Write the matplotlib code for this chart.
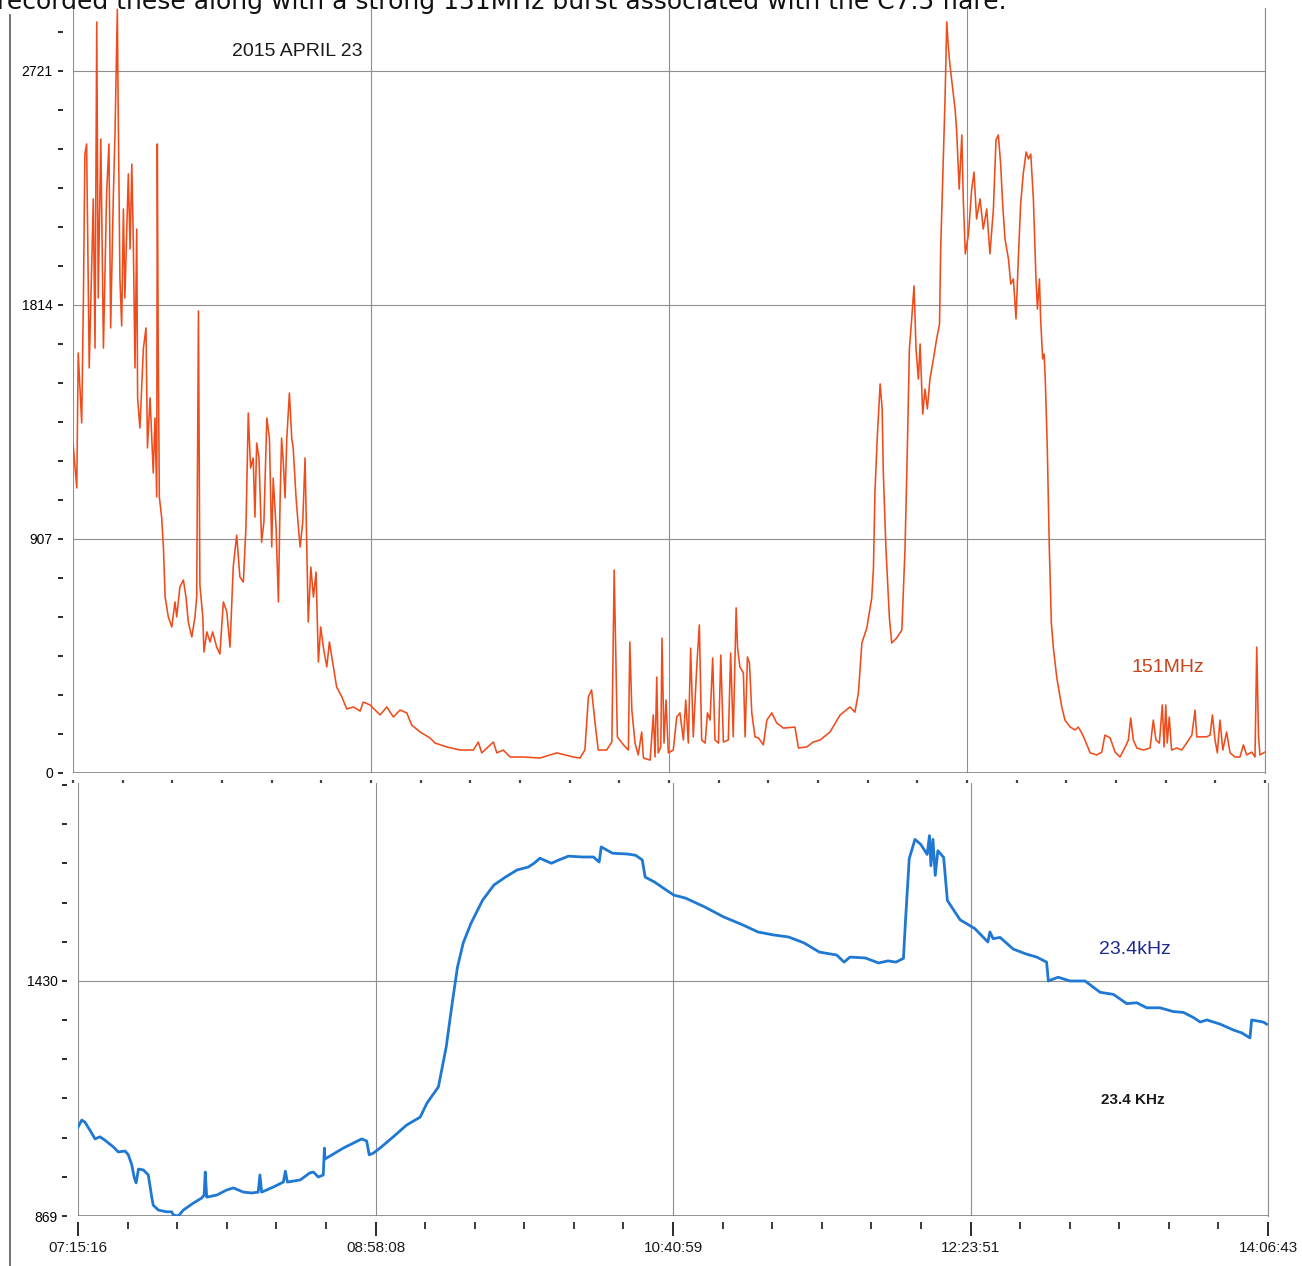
"""Radio receiver record, 2015 April 23: 151 MHz (top) and 23.4 kHz VLF (bottom).

Values were read off a scanned strip chart.  Time is minutes after 07:15:16 UT,
amplitudes are the recorder's own units shown on the y axes.
"""

import matplotlib

matplotlib.use("Agg")
import matplotlib.pyplot as plt
from matplotlib import font_manager
from matplotlib.lines import Line2D
from matplotlib.ticker import FixedLocator

SPAN_MIN = 411.45  # 07:15:16 -> 14:06:43
MAJOR_X = [0.0, 102.87, 205.73, 308.6, 411.45]
X_LABELS = ["07:15:16", "08:58:08", "10:40:59", "12:23:51", "14:06:43"]
MHZ_TICKS = [0, 907, 1814, 2721]
KHZ_TICKS = [869, 1430]

# 151 MHz trace: (minutes, level)
MHZ_TRACE = [
    (0.0, 1279), (1.3, 1105), (1.8, 1628), (3.0, 1357), (3.6, 1841),
    (4.1, 2399), (4.7, 2438), (5.6, 1570), (7.0, 2225), (7.6, 1647),
    (8.2, 2911), (8.7, 1841), (9.6, 2457), (10.5, 1647), (11.6, 2244),
    (12.4, 2438), (13.0, 1725), (13.9, 2225), (14.5, 2477), (15.3, 2960),
    (15.6, 2574), (16.2, 1915), (16.8, 1733), (17.4, 2186), (17.9, 1841),
    (19.1, 2322), (19.7, 2031), (20.3, 2360), (20.8, 2070), (21.4, 1570),
    (22.0, 2108), (22.3, 1454), (23.1, 1337), (24.3, 1647), (25.2, 1725),
    (25.7, 1260), (26.6, 1454), (27.7, 1163), (28.3, 1376), (28.9, 1070),
    (29.1, 2438), (29.4, 1686), (29.8, 1070), (30.6, 992), (31.2, 876),
    (31.8, 682), (32.9, 605), (34.1, 566), (35.2, 663), (35.8, 605),
    (36.9, 721), (38.1, 748), (39.0, 682), (39.8, 585), (41.0, 527),
    (42.1, 605), (42.7, 682), (43.3, 1791), (43.8, 729), (44.8, 605),
    (45.2, 469), (46.2, 547), (47.3, 508), (48.2, 547), (49.6, 488),
    (50.7, 461), (51.9, 663), (53.1, 624), (54.2, 488), (55.3, 798),
    (56.5, 922), (57.6, 760), (58.8, 740), (59.7, 953), (60.5, 1395),
    (61.3, 1182), (62.2, 1221), (62.8, 992), (63.4, 1279), (64.2, 1221),
    (65.1, 895), (65.9, 973), (66.9, 1376), (67.8, 1298), (68.6, 876),
    (69.1, 1143), (70.1, 953), (70.9, 663), (71.5, 1066), (72.0, 1298),
    (72.6, 1202), (73.2, 1066), (73.8, 1298), (74.7, 1473), (75.5, 1298),
    (76.0, 1260), (77.0, 1066), (77.8, 953), (78.4, 876), (79.3, 973),
    (80.1, 1221), (80.7, 876), (81.2, 585), (82.1, 798), (83.0, 682),
    (83.9, 779), (84.7, 430), (85.5, 566), (86.4, 488), (87.6, 411),
    (88.5, 508), (89.9, 411), (91.0, 333), (92.8, 295), (94.5, 248),
    (96.8, 256), (99.1, 240), (100.2, 275), (102.5, 264), (106.0, 225),
    (108.3, 256), (110.6, 217), (112.9, 244), (115.2, 233), (116.9, 186),
    (119.8, 159), (123.2, 136), (125.0, 116), (129.0, 101), (133.6, 89),
    (138.2, 89), (139.9, 120), (141.1, 78), (145.1, 120), (146.3, 78),
    (148.5, 89), (150.9, 62), (155.4, 62), (161.2, 58), (167.0, 78),
    (172.7, 62), (175.0, 58), (176.7, 89), (177.9, 295), (179.0, 322),
    (180.2, 194), (181.3, 89), (184.2, 89), (186.0, 120), (186.8, 787),
    (187.2, 554), (187.9, 140), (190.0, 109), (191.7, 89), (192.2, 508),
    (192.9, 244), (194.0, 116), (195.1, 70), (196.3, 159), (196.9, 58),
    (199.2, 50), (200.3, 225), (200.9, 62), (201.5, 372), (202.0, 78),
    (202.9, 101), (203.3, 523), (204.0, 116), (204.7, 283), (205.5, 78),
    (207.2, 89), (208.4, 217), (209.5, 233), (210.7, 128), (211.5, 283),
    (212.4, 116), (213.2, 484), (214.1, 140), (215.3, 411), (216.2, 574),
    (217.0, 128), (218.2, 116), (219.0, 233), (219.9, 205), (220.8, 446),
    (221.6, 128), (222.8, 116), (223.6, 457), (224.5, 120), (226.2, 128),
    (227.0, 465), (227.9, 140), (228.9, 640), (229.4, 484), (230.2, 411),
    (231.4, 388), (232.0, 140), (232.8, 450), (233.5, 426), (234.3, 233),
    (235.4, 140), (236.6, 136), (238.3, 109), (239.5, 205), (241.2, 233),
    (242.9, 194), (245.2, 174), (249.2, 178), (250.4, 97), (253.3, 101),
    (255.5, 120), (257.9, 128), (261.3, 159), (264.8, 225), (268.2, 256),
    (269.9, 236), (271.1, 310), (272.3, 504), (274.0, 562), (275.7, 678),
    (276.3, 795), (276.8, 1085), (277.6, 1298), (278.6, 1508), (279.3, 1411),
    (279.7, 1163), (280.6, 872), (281.8, 601), (282.6, 504), (284.3, 523),
    (286.1, 554), (287.2, 872), (288.0, 1260), (288.7, 1643), (289.5, 1760),
    (290.3, 1888), (291.0, 1643), (291.8, 1527), (292.4, 1663), (293.3, 1391),
    (294.1, 1488), (294.9, 1411), (295.8, 1527), (297.0, 1605), (298.1, 1682),
    (299.1, 1740), (299.5, 2031), (300.2, 2302), (301.0, 2609), (301.6, 2911),
    (302.1, 2822), (302.7, 2744), (303.7, 2647), (304.5, 2570), (305.0, 2492),
    (305.9, 2263), (306.8, 2473), (307.3, 2225), (308.0, 2012), (309.1, 2089),
    (310.2, 2263), (311.0, 2329), (311.9, 2147), (313.1, 2225), (314.2, 2108),
    (315.4, 2186), (316.5, 2012), (317.7, 2186), (318.6, 2454), (319.4, 2473),
    (320.2, 2360), (320.9, 2205), (321.7, 2070), (322.9, 1992), (323.7, 1895),
    (324.6, 1915), (325.5, 1760), (326.3, 1992), (327.1, 2205), (328.0, 2322),
    (329.0, 2407), (329.8, 2380), (330.6, 2399), (331.5, 2225), (332.4, 1915),
    (332.9, 1798), (333.6, 1915), (334.0, 1760), (334.7, 1605), (335.2, 1624),
    (335.6, 1527), (336.3, 1260), (337.0, 872), (337.7, 581), (338.4, 485),
    (339.6, 368), (341.3, 256), (342.4, 205), (344.2, 178), (345.9, 167),
    (347.0, 178), (348.2, 155), (349.3, 128), (351.1, 78), (353.4, 70),
    (355.1, 81), (356.2, 147), (358.0, 136), (359.7, 81), (361.4, 62),
    (363.2, 101), (364.3, 128), (365.1, 213), (366.0, 128), (367.2, 97),
    (369.5, 89), (371.8, 97), (372.4, 159), (372.9, 205), (373.8, 128),
    (375.0, 116), (376.0, 264), (376.6, 101), (377.2, 264), (377.7, 116),
    (378.4, 217), (379.2, 89), (381.0, 97), (382.7, 89), (384.4, 116),
    (386.2, 147), (387.3, 244), (387.9, 140), (389.6, 140), (391.3, 140),
    (392.5, 147), (393.3, 225), (394.2, 128), (395.0, 78), (395.9, 205),
    (396.9, 89), (398.2, 159), (399.4, 78), (401.1, 62), (402.8, 62),
    (404.0, 109), (405.1, 70), (406.9, 81), (408.0, 62), (408.6, 488),
    (409.2, 147), (409.7, 70), (410.9, 78), (411.4, 81),
]

# 23.4 kHz trace: (minutes, level)
KHZ_TRACE = [
    (0.0, 1081), (1.3, 1098), (2.4, 1093), (4.1, 1074), (5.9, 1053),
    (7.6, 1058), (9.3, 1050), (12.2, 1034), (13.9, 1022), (16.3, 1024),
    (17.4, 1015), (18.6, 991), (19.4, 962), (20.1, 948), (20.9, 981),
    (22.6, 979), (24.3, 967), (25.5, 914), (26.0, 895), (27.8, 883),
    (30.7, 879), (32.4, 879), (33.0, 871), (34.7, 869), (36.4, 883),
    (39.9, 900), (42.8, 912), (43.6, 919), (44.0, 974), (44.5, 914),
    (48.0, 919), (51.4, 931), (53.7, 936), (57.2, 926), (60.1, 924),
    (62.3, 926), (62.9, 967), (63.5, 926), (67.5, 938), (71.0, 950),
    (71.7, 976), (72.4, 950), (76.8, 955), (80.2, 972), (81.4, 974),
    (83.1, 962), (84.8, 967), (85.2, 1031), (85.4, 1005), (88.3, 1017),
    (91.7, 1031), (95.2, 1043), (98.1, 1053), (99.8, 1048), (100.7, 1015),
    (102.1, 1019), (104.4, 1031), (109.0, 1058), (113.6, 1086), (118.3, 1105),
    (120.7, 1139), (124.6, 1177), (127.3, 1272), (129.2, 1368), (131.2, 1463),
    (133.2, 1521), (135.9, 1568), (139.9, 1623), (143.8, 1659), (147.8, 1678),
    (151.8, 1695), (155.7, 1702), (157.7, 1711), (159.7, 1723), (163.7, 1711),
    (166.3, 1719), (169.6, 1728), (174.3, 1726), (178.2, 1726), (180.2, 1714),
    (180.9, 1750), (184.8, 1735), (190.1, 1733), (192.8, 1730), (195.1, 1719),
    (196.1, 1678), (199.4, 1666), (203.4, 1647), (206.0, 1635), (210.0, 1628),
    (216.6, 1607), (223.2, 1583), (229.8, 1564), (235.1, 1547), (240.4, 1540),
    (245.7, 1535), (251.0, 1521), (256.3, 1499), (262.3, 1492), (264.9, 1475),
    (266.9, 1487), (272.2, 1485), (276.8, 1473), (280.1, 1478), (282.8, 1475),
    (285.4, 1484), (286.1, 1572), (287.4, 1722), (289.4, 1768), (291.4, 1756),
    (293.6, 1732), (294.4, 1777), (294.9, 1705), (295.6, 1768), (296.4, 1682),
    (297.3, 1741), (299.3, 1725), (300.6, 1622), (305.0, 1576), (310.1, 1555),
    (314.6, 1523), (315.3, 1547), (316.4, 1531), (318.8, 1534), (323.4, 1506),
    (328.0, 1494), (331.5, 1487), (334.9, 1475), (335.5, 1430), (338.9, 1439),
    (343.0, 1430), (348.2, 1430), (350.5, 1418), (353.4, 1403), (358.0, 1398),
    (362.6, 1376), (366.1, 1378), (369.5, 1366), (374.1, 1366), (378.7, 1357),
    (382.2, 1355), (385.6, 1343), (388.0, 1332), (390.3, 1337), (394.9, 1327),
    (399.5, 1313), (402.4, 1306), (405.2, 1294), (405.8, 1337), (408.1, 1334),
    (409.8, 1332), (411.0, 1327),
]

RED = "#ef4c1c"
BLUE = "#1f78d2"
GRID = "#8f8f8f"
INK = "#1a1a1a"
W, H = 1302, 1266


def pick_font(names):
    for name in names:
        try:
            font_manager.findfont(name, fallback_to_default=False)
            return name
        except ValueError:
            continue
    return "DejaVu Sans"


SANS = pick_font(["Liberation Sans", "Arial"])
NARROW = pick_font(["Liberation Sans Narrow", "Liberation Sans"])
plt.rcParams["font.family"] = [SANS, "DejaVu Sans"]


def style_axes(ax, ymajor, ystep, ymax, xlabels):
    ax.set_xlim(0, SPAN_MIN)
    ax.set_ylim(ymajor[0], ymax)
    ax.xaxis.set_major_locator(FixedLocator(MAJOR_X))
    ax.xaxis.set_minor_locator(FixedLocator(
        [MAJOR_X[-1] * k / 24 for k in range(25) if k % 6]))
    n = int((ymax - ymajor[0]) / ystep)
    ax.yaxis.set_major_locator(FixedLocator(ymajor))
    ax.yaxis.set_minor_locator(FixedLocator(
        [ymajor[0] + ystep * k for k in range(n + 1) if k % 6]))
    ax.set_yticklabels([str(v) for v in ymajor], fontsize=11, color=INK)
    ax.grid(True, which="major", color=GRID, lw=0.8)
    ax.set_axisbelow(True)
    for side in ("top", "left", "bottom"):
        ax.spines[side].set_visible(False)
    ax.spines["right"].set_color(GRID)
    ax.spines["right"].set_linewidth(0.8)
    ax.axhline(ymajor[0], color="#777777", lw=1.1, zorder=1)
    ax.tick_params(axis="y", which="both", left=True, direction="out",
                   length=3.5, width=1.3, color=INK)
    if xlabels is None:
        ax.spines["left"].set_position(("outward", 7))
        ax.spines["bottom"].set_position(("outward", 5))
        ax.tick_params(axis="y", pad=4)
        ax.tick_params(axis="x", which="both", direction="out", length=2,
                       width=1.6, color="#444444", labelbottom=False)
    else:
        ax.spines["left"].set_position(("outward", 8))
        ax.spines["bottom"].set_position(("outward", 4))
        ax.tick_params(axis="y", pad=3)
        ax.tick_params(axis="x", which="major", direction="out", length=10,
                       width=1.3, color=INK, pad=4)
        ax.tick_params(axis="x", which="minor", direction="out", length=5,
                       width=1.2, color=INK)
        size = 12.5 if NARROW != SANS else 11
        ax.set_xticklabels(xlabels, fontsize=size, family=NARROW, color=INK)


fig = plt.figure(figsize=(W / 100, H / 100), dpi=100)

ax1 = fig.add_axes([73 / W, 1 - 773 / H, (1265 - 73) / W, (773 - 8) / H])
ax1.plot([p[0] for p in MHZ_TRACE], [p[1] for p in MHZ_TRACE], color=RED, lw=1.15)
style_axes(ax1, MHZ_TICKS, 907 / 6, 2965, None)
ax1.text(77.3, 2795, "2015 APRIL 23", fontsize=14, color=INK, ha="center", va="center")
ax1.text(378.0, 407, "151MHz", fontsize=14, color="#c6431c", ha="center", va="center")

ax2 = fig.add_axes([78 / W, 1 - 1216 / H, (1268 - 78) / W, (1216 - 783) / H])
ax2.plot([p[0] for p in KHZ_TRACE], [p[1] for p in KHZ_TRACE], color=BLUE, lw=2.0,
         solid_joinstyle="round")
style_axes(ax2, KHZ_TICKS, 561 / 6, 1902.6, X_LABELS)
ax2.text(365.5, 1504, "23.4kHz", fontsize=14, color="#1c2a8c", ha="center", va="center")
ax2.text(364.8, 1146, "23.4 KHz", fontsize=11, fontweight="bold", color=INK,
         ha="center", va="center")

# scanned page border on the left and the clipped caption line above the chart
fig.add_artist(Line2D([10 / W, 10 / W], [0, 1 - 15 / H], color="#666666", lw=1.3))
fig.text(-0.002, 1 - 9 / H, "recorded these along with a strong 151MHz burst "
         "associated with the C7.5 flare.", fontsize=18, family="DejaVu Sans",
         color="#111111", va="baseline", ha="left")

fig.savefig("out.png", dpi=100)
